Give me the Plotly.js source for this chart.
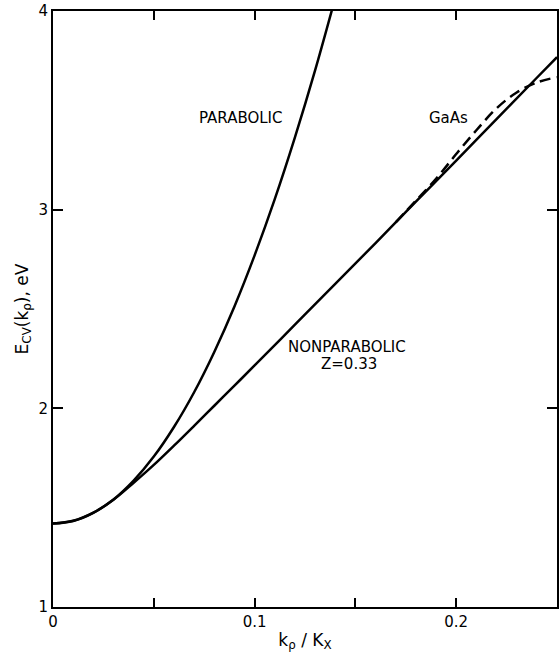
<!DOCTYPE html>
<html>
<head>
<meta charset="utf-8">
<script src="https://cdn.plot.ly/plotly-3.0.1.min.js"></script>
<style>html,body{margin:0;padding:0;background:#fff;}#chart{width:560px;height:656px;}</style>
</head>
<body>
<div id="chart"></div>
<script>
// k_rho / K_X values and energies (eV)
var kParabolic = [0, 0.01, 0.02, 0.03, 0.04, 0.05, 0.06, 0.07, 0.08, 0.09, 0.10, 0.11, 0.12, 0.13, 0.14];
var eParabolic = [1.42, 1.433, 1.474, 1.541, 1.636, 1.757, 1.906, 2.081, 2.284, 2.513, 2.77, 3.053, 3.364, 3.701, 4.066];

var kNonparabolic = [0, 0.01, 0.02, 0.03, 0.04, 0.05, 0.06, 0.07, 0.08, 0.09, 0.10, 0.12, 0.14, 0.16, 0.18, 0.20, 0.22, 0.24, 0.25];
var eNonparabolic = [1.42, 1.434, 1.475, 1.54, 1.625, 1.715, 1.812, 1.912, 2.013, 2.114, 2.216, 2.421, 2.626, 2.832, 3.04, 3.247, 3.456, 3.664, 3.768];

var kGaAs = [0.17, 0.18, 0.19, 0.20, 0.21, 0.22, 0.23, 0.24, 0.25];
var eGaAs = [2.936, 3.045, 3.155, 3.28, 3.40, 3.51, 3.59, 3.64, 3.667];

var xTickVals = [0, 0.1, 0.2];
var xTickText = ['0', '0.1', '0.2'];
var yTickVals = [1, 2, 3, 4];
var yTickText = ['1', '2', '3', '4'];

var lineStyle = {color: '#000', width: 2.5, shape: 'spline'};

var traces = [
  {x: kParabolic, y: eParabolic, mode: 'lines', line: lineStyle, hoverinfo: 'skip'},
  {x: kNonparabolic, y: eNonparabolic, mode: 'lines', line: lineStyle, hoverinfo: 'skip'},
  {x: kGaAs, y: eGaAs, mode: 'lines', line: {color: '#000', width: 2.5, dash: '11px,6px', shape: 'spline'}, hoverinfo: 'skip'}
];

var fam = '"DejaVu Sans", "Liberation Sans", sans-serif';
var fontTick = {family: fam, size: 15, color: '#000'};
var fontNote = {family: fam, size: 15, color: '#000'};

var layout = {
  width: 560, height: 656,
  margin: {l: 53, r: 3, t: 11, b: 49},
  paper_bgcolor: '#fff', plot_bgcolor: '#fff',
  showlegend: false,
  font: fontTick,
  xaxis: {
    range: [0, 0.25], tickvals: xTickVals, ticktext: xTickText,
    ticks: 'inside', ticklen: 9, tickwidth: 2, tickcolor: '#000',
    minor: {dtick: 0.05, ticks: 'inside', ticklen: 9, tickwidth: 2, tickcolor: '#000', showgrid: false},
    showline: true, linewidth: 2, linecolor: '#000', mirror: 'ticks',
    showgrid: false, zeroline: false,
    tickfont: fontTick,
    title: {text: 'k<sub>ρ</sub> / K<sub>X</sub>', font: {family: fam, size: 17, color: '#000'}, standoff: 4}
  },
  yaxis: {
    range: [1, 4], tickvals: yTickVals, ticktext: yTickText,
    ticks: 'inside', ticklen: 10, tickwidth: 2, tickcolor: '#000',
    showline: true, linewidth: 2, linecolor: '#000', mirror: 'ticks',
    showgrid: false, zeroline: false,
    tickfont: fontTick,
    title: {text: 'E<sub>CV</sub>(k<sub>ρ</sub>), eV', font: {family: fam, size: 17, color: '#000'}, standoff: 6}
  },
  annotations: [
    {x: 0.0933, y: 3.46, xref: 'x', yref: 'y', text: 'PARABOLIC', showarrow: false, font: fontNote},
    {x: 0.196, y: 3.46, xref: 'x', yref: 'y', text: 'GaAs', showarrow: false, font: fontNote},
    {x: 0.146, y: 2.31, xref: 'x', yref: 'y', text: 'NONPARABOLIC', showarrow: false, font: fontNote},
    {x: 0.147, y: 2.225, xref: 'x', yref: 'y', text: 'Z=0.33', showarrow: false, font: fontNote}
  ]
};

Plotly.newPlot('chart', traces, layout, {displayModeBar: false, staticPlot: true});
</script>
</body>
</html>
